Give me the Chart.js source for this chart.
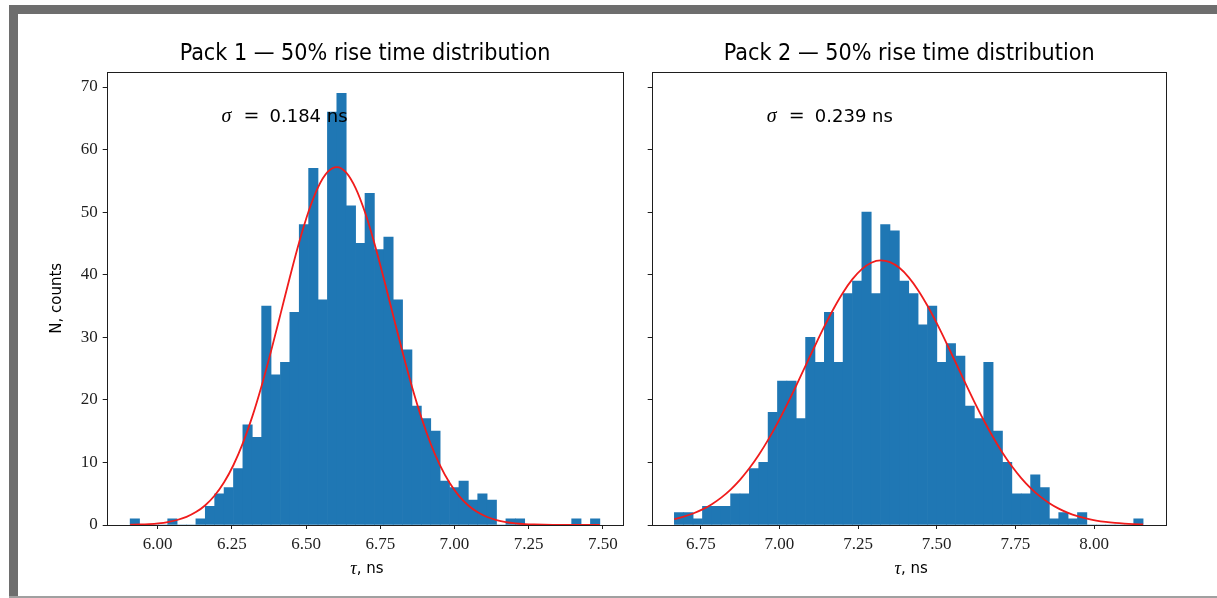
<!DOCTYPE html>
<html>
<head>
  <meta charset="UTF-8" />
  <title>Pack 1 / Pack 2 — 50% rise time distribution</title>
  <style>
    html, body {
      margin: 0;
      padding: 0;
      background: #ffffff;
    }
    #page {
      position: relative;
      width: 1217px;
      height: 598px;
      overflow: hidden;
      background: #ffffff;
    }
    #frameTop {
      position: absolute;
      left: 9px; top: 5px;
      width: 1208px; height: 9px;
      background: #6e6e6e;
    }
    #frameLeft {
      position: absolute;
      left: 9px; top: 5px;
      width: 9px; height: 593px;
      background: #6e6e6e;
    }
    #frameBottom {
      position: absolute;
      left: 9px; top: 596px;
      width: 1208px; height: 2px;
      background: #a0a0a0;
    }
    canvas {
      position: absolute;
      top: 0;
    }
  </style>
  <script src="https://cdn.jsdelivr.net/npm/chart.js"></script>
</head>
<body>

<div id="page">
  <div id="frameTop"></div>
  <div id="frameLeft"></div>
  <div id="frameBottom"></div>
  <canvas id="pack1" width="640" height="598" style="left:0px"></canvas>
  <canvas id="pack2" width="577" height="598" style="left:640px"></canvas>
</div>

<script>
// Histogram data (50 bins each, counts per bin)
const pack1Range = [5.907, 7.490];   // first / last bin edge, ns
const pack1Counts = [1, 0, 0, 0, 1, 0, 0, 1, 3, 5,
                     6, 9, 16, 14, 35, 24, 26, 34, 48, 57,
                     36, 66, 69, 51, 45, 53, 44, 46, 36, 28,
                     19, 17, 15, 7, 6, 7, 4, 5, 4, 0,
                     1, 1, 0, 0, 0, 0, 0, 1, 0, 1];

const pack2Range = [6.666, 8.156];
const pack2Counts = [2, 2, 1, 3, 3, 3, 5, 5, 9, 10,
                     18, 23, 23, 17, 30, 26, 34, 26, 37, 39,
                     50, 37, 48, 47, 39, 37, 32, 35, 26, 29,
                     27, 19, 17, 26, 15, 10, 5, 5, 8, 6,
                     1, 2, 1, 2, 0, 0, 0, 0, 0, 1];

// Gaussian fits: [mean, sigma, peak height]
const pack1Fit = [6.603, 0.184, 57.2];
const pack2Fit = [7.324, 0.239, 42.3];

// Axis ranges and tick labels
const pack1XLim = [5.828, 7.569];
const pack2XLim = [6.594, 8.231];
const yLim = [0, 72.45];
const pack1Ticks = ["6.00", "6.25", "6.50", "6.75", "7.00", "7.25", "7.50"];
const pack2Ticks = ["6.75", "7.00", "7.25", "7.50", "7.75", "8.00"];
const yTicks = ["0", "10", "20", "30", "40", "50", "60", "70"];

const pack1Title = "Pack 1 \u2014 50% rise time distribution";
const pack2Title = "Pack 2 \u2014 50% rise time distribution";
const pack1Sigma = "0.184 ns";
const pack2Sigma = "0.239 ns";

const BLUE = "#1f77b4";
const RED = "#f01c1c";
const INK = "#1e1e1e";
const SERIF = "'Liberation Serif', serif";
const DSERIF = "'DejaVu Serif', serif";
const SANS = "'DejaVu Sans', sans-serif";
const TITLE_FONT = "'DejaVu Sans Condensed', 'DejaVu Sans', sans-serif";

// draw a line of text made of runs; a run may carry a fixed start offset
function drawRuns(ctx, runs, x, y, align) {
  let total = 0;
  runs.forEach(r => { ctx.font = r[1]; total = (r[2] !== undefined ? r[2] : total) + ctx.measureText(r[0]).width; });
  const x0 = align === "center" ? x - total / 2 : x;
  let cx = x0;
  runs.forEach(r => {
    ctx.font = r[1];
    if (r[2] !== undefined) cx = x0 + r[2];
    ctx.fillText(r[0], cx, y);
    cx += ctx.measureText(r[0]).width;
  });
}

// frame, titles, axis labels and the sigma note
const panelText = {
  id: "panelText",
  afterDraw(chart, args, o) {
    const ctx = chart.ctx;
    const a = chart.chartArea;
    const xs = chart.scales.x, ys = chart.scales.y;
    ctx.save();

    ctx.strokeStyle = INK;
    ctx.lineWidth = 1;
    ctx.strokeRect(Math.round(a.left) + 0.5, Math.round(a.top) + 0.5,
                   Math.round(a.right - a.left) - 1, Math.round(a.bottom - a.top));

    ctx.fillStyle = "#000";
    ctx.textBaseline = "middle";
    ctx.textAlign = "left";
    const cx = (a.left + a.right) / 2;

    // title, sized to the width it has in the picture
    ctx.font = "20px " + TITLE_FONT;
    const tw = ctx.measureText(o.title).width;
    const ts = Math.min(24, 20 * 370 / tw);
    drawRuns(ctx, [[o.title, ts.toFixed(1) + "px " + TITLE_FONT]], cx, 54, "center");

    drawRuns(ctx, [["\u03c4", "italic 18px " + SERIF], [",", "15px " + SANS], [" ns", "15px " + SANS]], cx + 2, 569, "center");

    ctx.textBaseline = "alphabetic";
    drawRuns(ctx, [["\u03c3", "italic 20px " + SERIF], ["=", "19px " + DSERIF, 22], [o.sigma, "18px " + SANS, 48]],
             xs.getPixelForValue(o.sigmaAt[0]), ys.getPixelForValue(o.sigmaAt[1]), "left");

    if (o.ylabel) {
      ctx.translate(57, (a.top + a.bottom) / 2);
      ctx.rotate(-Math.PI / 2);
      ctx.textBaseline = "middle";
      drawRuns(ctx, [[o.ylabel, "15px " + SANS]], 0, 0, "center");
    }
    ctx.restore();
  }
};

function histChart(id, counts, range, fit, xlim, tickLabels, opts) {
  const w = (range[1] - range[0]) / counts.length;
  const bars = counts.map((c, i) => ({ x: range[0] + (i + 0.5) * w, y: c }));
  const curve = [];
  for (let i = 0; i <= counts.length; i++) {
    const x = range[0] + i * w;
    curve.push({ x: x, y: fit[2] * Math.exp(-0.5 * Math.pow((x - fit[0]) / fit[1], 2)) });
  }
  const tickVals = tickLabels.map(Number);
  const yVals = yTicks.map(Number);

  return new Chart(document.getElementById(id), {
    type: "bar",
    data: {
      datasets: [
        {
          type: "line",
          data: curve,
          borderColor: RED,
          borderWidth: 1.8,
          pointRadius: 0,
          cubicInterpolationMode: "monotone",
          order: 0
        },
        {
          data: bars,
          backgroundColor: BLUE,
          borderWidth: 0,
          barPercentage: 1,
          categoryPercentage: 1,
          order: 1
        }
      ]
    },
    options: {
      responsive: false,
      animation: false,
      devicePixelRatio: 1,
      layout: { padding: opts.padding },
      plugins: {
        legend: { display: false },
        tooltip: { enabled: false },
        panelText: { title: opts.title, sigma: opts.sigma, sigmaAt: opts.sigmaAt, ylabel: opts.ylabel }
      },
      scales: {
        x: {
          type: "linear",
          offset: false,
          min: xlim[0],
          max: xlim[1],
          afterBuildTicks: axis => { axis.ticks = tickVals.map(v => ({ value: v })); },
          afterFit: axis => { axis.height = 73; },
          ticks: {
            callback: (v, i) => tickLabels[i],
            color: INK,
            font: { family: SERIF, size: 17 },
            padding: 5,
            maxRotation: 0,
            autoSkip: false
          },
          grid: { offset: false, drawOnChartArea: false, drawTicks: true, tickLength: 4, color: INK },
          border: { display: false }
        },
        y: {
          min: yLim[0],
          max: yLim[1],
          afterBuildTicks: axis => { axis.ticks = yVals.map(v => ({ value: v })); },
          afterFit: axis => { axis.width = opts.yWidth; },
          ticks: {
            display: opts.showY,
            callback: (v, i) => yTicks[i],
            color: INK,
            font: { family: SERIF, size: 17 },
            padding: 5
          },
          grid: { drawOnChartArea: false, drawTicks: true, tickLength: 4, color: INK },
          border: { display: false }
        }
      }
    },
    plugins: [panelText]
  });
}

histChart("pack1", pack1Counts, pack1Range, pack1Fit, pack1XLim, pack1Ticks, {
  padding: { left: 0, right: 16.7, top: 71.7, bottom: 0 },
  yWidth: 106.7,
  showY: true,
  title: pack1Title,
  sigma: pack1Sigma,
  sigmaAt: [6.215, 64.4],
  ylabel: "N, counts"
});

histChart("pack2", pack2Counts, pack2Range, pack2Fit, pack2XLim, pack2Ticks, {
  padding: { left: 0, right: 50.3, top: 71.7, bottom: 0 },
  yWidth: 11.7,
  showY: false,
  title: pack2Title,
  sigma: pack2Sigma,
  sigmaAt: [6.96, 64.4],
  ylabel: null
});
</script>

</body>
</html>
